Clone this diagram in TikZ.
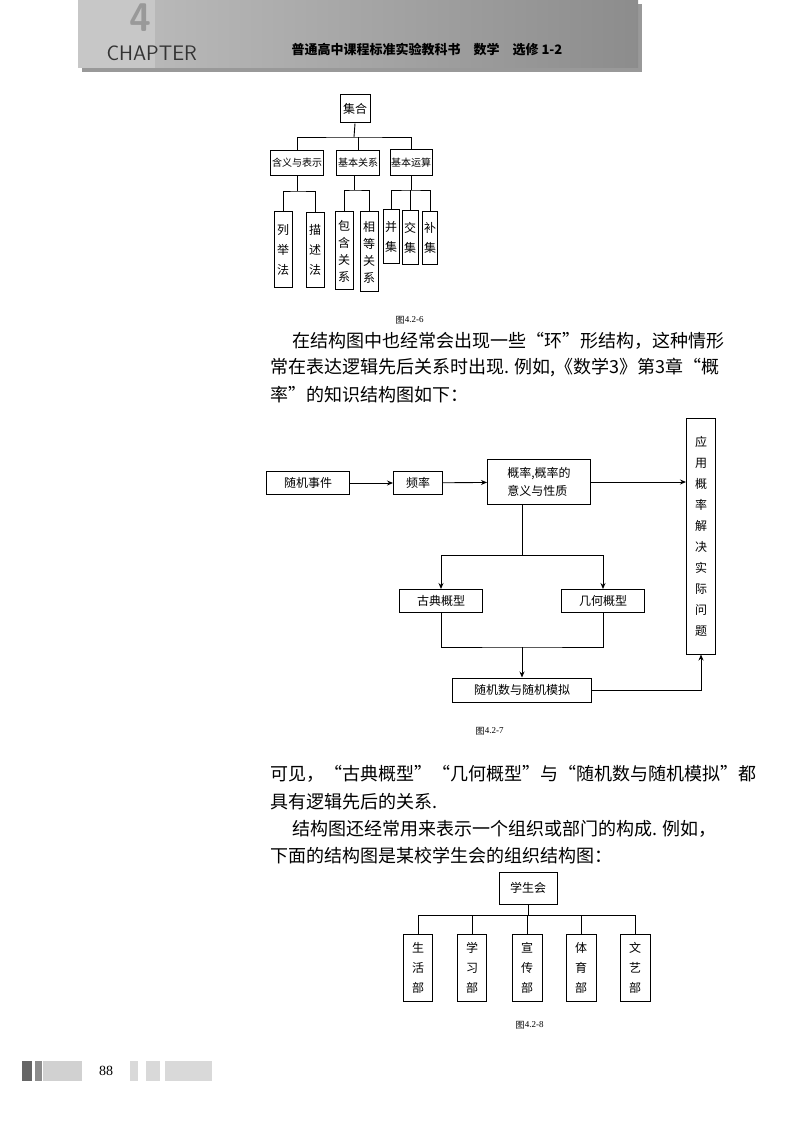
\documentclass[tikz,border=0pt]{standalone}
\usepackage{fontspec}
\newfontfamily\cjk{Noto Sans CJK SC}
\setmainfont{Liberation Serif}
\usetikzlibrary{arrows.meta}
\begin{document}
\begin{tikzpicture}[x=1pt,y=-1pt,
  bx/.style={draw,line width=1pt,inner sep=0pt,font=\cjk\fontsize{12}{15}\selectfont},
  sb/.style={bx,font=\cjk\fontsize{10}{12}\selectfont},
  vb/.style={bx,align=center,font=\cjk\fontsize{12}{20}\selectfont},
  ln/.style={line width=0.9pt},
  ar/.style={ln,-{Stealth[length=6pt,width=5pt]}},
  body/.style={anchor=west,inner sep=0pt,font=\cjk\fontsize{18}{20}\selectfont},
  figcap/.style={inner sep=0pt,font=\fontsize{9}{10}\selectfont}]
\useasboundingbox (0,0) rectangle (800,1139);
% header
\fill[black!40] (82,4) rectangle (642,72);
\shade[left color=black!25,right color=black!45] (78,0) rectangle (638,68);
\fill[black!22] (78,0) rectangle (155,68);
\node[text=black!40,font=\sffamily\bfseries\fontsize{40}{40}\selectfont] (four) at (140,18) {4};
\node[anchor=west,text=black!80,font=\sffamily\fontsize{21}{21}\selectfont] (chap) at (103,53) {CHAPTER};
\node[anchor=west,font=\cjk\bfseries\itshape\fontsize{13}{13}\selectfont] (ttl) at (288,50) {普通高中课程标准实验教科书\quad 数学\quad 选修 \textit{1-2}};
% diagram 1
\node[bx,minimum width=30,minimum height=28] (jh) at (355,109) {集合};
\node[sb,minimum width=53,minimum height=25] (hy) at (297,163) {含义与表示};
\node[sb,minimum width=43,minimum height=25] (gx) at (358,163) {基本关系};
\node[sb,minimum width=42,minimum height=26] (ys) at (411,163) {基本运算};
\coordinate (h1) at (354,137);
\draw[ln] (jh.south) -- (h1);
\draw[ln] (hy.north) |- (h1) -| (ys.north);
\draw[ln] (gx.north) -- (gx.north|-h1);
\node[vb,minimum width=18,minimum height=76] (lj) at (283,250) {列\\举\\法};
\node[vb,minimum width=18,minimum height=75] (ms) at (315,250) {描\\述\\法};
\node[vb,minimum width=18,minimum height=78,font=\cjk\fontsize{12}{17}\selectfont] (bh) at (344,251) {包\\含\\关\\系};
\node[vb,minimum width=18,minimum height=80,font=\cjk\fontsize{12}{17}\selectfont] (xd) at (369,252) {相\\等\\关\\系};
\node[vb,minimum width=16,minimum height=54] (bj) at (391,237) {并\\集};
\node[vb,minimum width=16,minimum height=54] (jj) at (410,238) {交\\集};
\node[vb,minimum width=15,minimum height=53] (bu) at (430,238) {补\\集};
\coordinate (h2) at (297,191);
\coordinate (h3) at (354,190);
\coordinate (h4) at (411,190);
\draw[ln] (hy.south) -- (h2);
\draw[ln] (lj.north) |- (h2) -| (ms.north);
\draw[ln] (h3|-gx.south) -- (h3);
\draw[ln] (bh.north) |- (h3) -| (xd.north);
\draw[ln] (ys.south) -- (h4);
\draw[ln] (bj.north) |- (h4) -| (bu.north);
\draw[ln] (jj.north) -- (jj.north|-h4);
\node[figcap] (c1) at (400,320) {\cjk 图} ;
\node[figcap,anchor=west] (c1b) at (c1.east) {4.2-6};
% paragraph 1
\node[body] (p1) at (292,341) {在结构图中也经常会出现一些“环”形结构，这种情形};
\node[body] (p2) at (270,368) {常在表达逻辑先后关系时出现. 例如,《数学3》第3章“概};
\node[body] (p3) at (270,395) {率”的知识结构图如下：};
% diagram 2
\node[bx,minimum width=83,minimum height=23] (sj) at (308,483) {随机事件};
\node[bx,minimum width=49,minimum height=23] (pl) at (418,483) {频率};
\node[bx,minimum width=103,minimum height=45,align=left,font=\cjk\fontsize{12}{18}\selectfont] (gl) at (539,482) {概率,概率的\\意义与性质};
\node[vb,minimum width=29,minimum height=236,font=\cjk\fontsize{12}{21}\selectfont] (yy) at (701,536) {应\\用\\概\\率\\解\\决\\实\\际\\问\\题};
\node[bx,minimum width=83,minimum height=23] (gd) at (441,601) {古典概型};
\node[bx,minimum width=83,minimum height=23] (jh2) at (603,601) {几何概型};
\node[bx,minimum width=139,minimum height=24] (sm) at (522,690) {随机数与随机模拟};
\draw[ar] (sj) -- (pl);
\draw[ar] (pl) -- (gl);
\draw[ar] (gl.east) -- (gl.east-|yy.west);
\coordinate (m1) at (522,555);
\coordinate (m2) at (522,647);
\draw[ln] (m1|-gl.south) -- (m1);
\draw[ar] (m1) -| (gd.north);
\draw[ar] (m1) -| (jh2.north);
\draw[ln] (gd.south) |- (m2) -| (jh2.south);
\draw[ar] (m2) -- (sm.north);
\draw[ar] (sm.east) -| (yy.south);
\node[figcap] (c2) at (480,731) {\cjk 图};
\node[figcap,anchor=west] (c2b) at (c2.east) {4.2-7};
% paragraph 2
\node[body] (p4) at (270,774) {可见，“古典概型”“几何概型”与“随机数与随机模拟”都};
\node[body] (p5) at (270,802) {具有逻辑先后的关系.};
\node[body] (p6) at (292,829) {结构图还经常用来表示一个组织或部门的构成. 例如，};
\node[body] (p7) at (270,856) {下面的结构图是某校学生会的组织结构图：};
% diagram 3
\node[bx,minimum width=58,minimum height=32] (xsh) at (528,888) {学生会};
\node[vb,minimum width=29,minimum height=67] (sh) at (418,968) {生\\活\\部};
\node[vb,minimum width=29,minimum height=67] (xx) at (472,968) {学\\习\\部};
\node[vb,minimum width=30,minimum height=67] (xc) at (527,968) {宣\\传\\部};
\node[vb,minimum width=30,minimum height=67] (ty) at (581,968) {体\\育\\部};
\node[vb,minimum width=30,minimum height=67] (wy) at (635,968) {文\\艺\\部};
\coordinate (h5) at (528,915);
\draw[ln] (xsh.south) -- (h5);
\draw[ln] (sh.north) |- (h5) -| (wy.north);
\draw[ln] (xx.north) -- (xx.north|-h5);
\draw[ln] (xc.north) -- (xc.north|-h5);
\draw[ln] (ty.north) -- (ty.north|-h5);
\node[figcap] (c3) at (520,1025) {\cjk 图};
\node[figcap,anchor=west] (c3b) at (c3.east) {4.2-8};
% footer
\fill[black!60] (22,1061) rectangle (32,1081);
\fill[black!45] (35,1061) rectangle (42,1081);
\fill[black!18] (43,1061) rectangle (82,1081);
\node[inner sep=0pt,font=\fontsize{14}{14}\selectfont] (pg) at (106,1071) {88};
\fill[black!15] (130,1061) rectangle (138,1081);
\fill[black!15] (146,1061) rectangle (160,1081);
\fill[black!15] (165,1061) rectangle (212,1081);
\end{tikzpicture}
\end{document}
